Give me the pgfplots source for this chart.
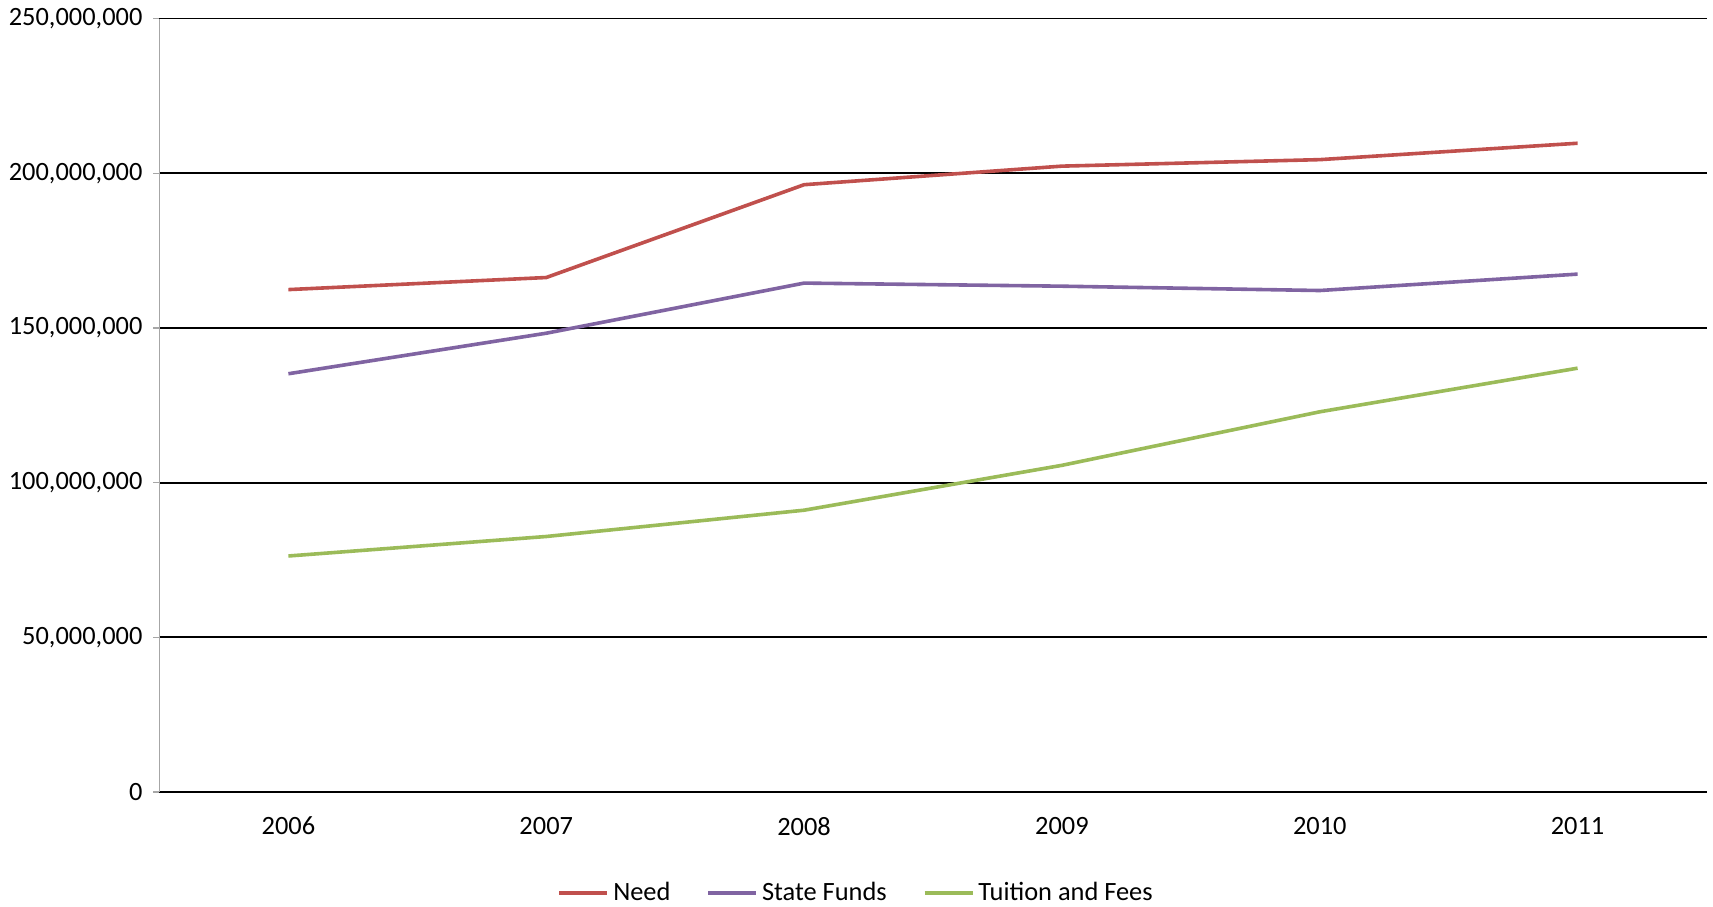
\documentclass[border=0pt]{standalone}
\usepackage{pgfplots}
\pgfplotsset{compat=1.18}
\usepackage{fontspec}
\setmainfont{Carlito}
\definecolor{cneed}{HTML}{C0504D}
\definecolor{cstate}{HTML}{8064A2}
\definecolor{ctuit}{HTML}{9BBB59}
\definecolor{caxis}{HTML}{A6A6A6}
\begin{document}
\begin{tikzpicture}
\begin{axis}[
  scale only axis,
  width=773.5pt, height=386.75pt,
  xmin=-0.5, xmax=5.5,
  ymin=0, ymax=250000000,
  xtick={0,1,2,3,4,5},
  xticklabels={2006,2007,2008,2009,2010,2011},
  minor xtick={-0.5,0.5,1.5,2.5,3.5,4.5,5.5},
  ytick={0,50000000,100000000,150000000,200000000,250000000},
  scaled y ticks=false,
  /pgf/number format/fixed,
  /pgf/number format/precision=0,
  /pgf/number format/1000 sep={,},
  /pgf/number format/assume math mode=true,
  ymajorgrids,
  major grid style={black, line width=0.9pt},
  axis x line*=bottom,
  axis y line*=left,
  axis line style={caxis, line width=0.75pt},
  x axis line style={black, line width=0.9pt},
  tick align=outside,
  xtick style={draw=none},
  minor x tick style={caxis, line width=0.75pt},
  ytick style={caxis, line width=0.75pt},
  major tick length=3pt,
  minor tick length=3pt,
  tick label style={font=\fontsize{13.2}{15}\selectfont, text=black},
  xticklabel style={yshift=-6pt},
  yticklabel style={xshift=-2pt},
  legend style={draw=none, fill=none, at={(0.451,-0.1306)}, anchor=center,
    legend columns=3, font=\fontsize{13.2}{15}\selectfont,
    /tikz/every even column/.append style={column sep=16pt}},
  legend image code/.code={\draw[#1] (0pt,0pt) -- (24pt,0pt);},
  clip=false,
]
\addplot[cneed, line width=1.8pt] coordinates {(0,162400000) (1,166300000) (2,196300000) (3,202300000) (4,204400000) (5,209700000)};
\addlegendentry{Need}
\addplot[cstate, line width=1.8pt] coordinates {(0,135200000) (1,148300000) (2,164500000) (3,163500000) (4,162100000) (5,167400000)};
\addlegendentry{State Funds}
\addplot[ctuit, line width=1.8pt] coordinates {(0,76300000) (1,82600000) (2,91100000) (3,105600000) (4,122900000) (5,137000000)};
\addlegendentry{Tuition and Fees}
\coordinate (bbtl) at (rel axis cs:-0.1031,1.0240);
\coordinate (bbbr) at (rel axis cs:1.0042,-0.1476);
\end{axis}
\pgfresetboundingbox
\path (bbtl) rectangle (bbbr);
\end{tikzpicture}
\end{document}
